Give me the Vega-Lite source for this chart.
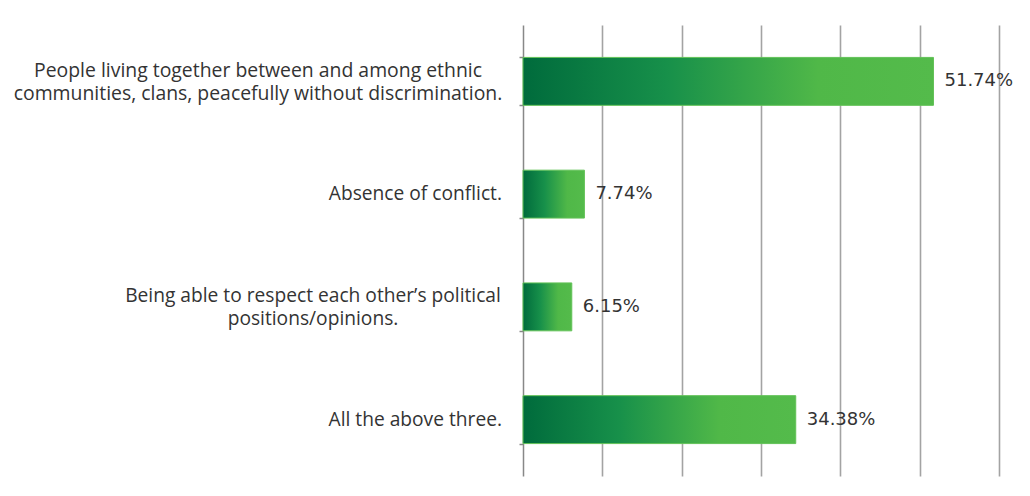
{
  "$schema": "https://vega.github.io/schema/vega-lite/v6.json",
  "width": 476,
  "height": 451,
  "autosize": {"type": "none"},
  "padding": {"left": 523, "top": 25, "right": 31, "bottom": 20},
  "background": "white",
  "config": {"view": {"stroke": null}},
  "data": {
    "values": [
      {"cat": "People living together between and among ethnic|communities, clans, peacefully without discrimination.", "pct": 0.5174},
      {"cat": "Absence of conflict.", "pct": 0.0774},
      {"cat": "Being able to respect each other’s political|positions/opinions.", "pct": 0.0615},
      {"cat": "All the above three.", "pct": 0.3438}
    ]
  },
  "encoding": {
    "y": {
      "field": "cat",
      "type": "nominal",
      "sort": null,
      "scale": {"paddingInner": 0.575, "paddingOuter": 0.2875},
      "axis": {
        "title": null,
        "tickBand": "extent",
        "ticks": true,
        "tickSize": 4,
        "tickColor": "#888888",
        "tickWidth": 1.5,
        "domain": true,
        "domainColor": "#888888",
        "domainWidth": 1.5,
        "grid": false,
        "labels": false
      }
    },
    "x": {
      "field": "pct",
      "type": "quantitative",
      "scale": {"domain": [0, 0.6], "nice": false},
      "axis": {
        "title": null,
        "labels": false,
        "ticks": false,
        "domain": false,
        "grid": true,
        "values": [0.1, 0.2, 0.3, 0.4, 0.5, 0.6],
        "gridColor": "#a3a3a3",
        "gridWidth": 1.6
      }
    }
  },
  "layer": [
    {
      "mark": {
        "type": "bar",
        "stroke": "#62c257",
        "strokeWidth": 1,
        "color": {
          "gradient": "linear",
          "x1": 0, "x2": 1, "y1": 0, "y2": 0,
          "stops": [
            {"offset": 0, "color": "#006B3C"},
            {"offset": 0.35, "color": "#17904A"},
            {"offset": 0.72, "color": "#50B848"},
            {"offset": 1, "color": "#54BB4B"}
          ]
        }
      }
    },
    {
      "mark": {
        "type": "text",
        "align": "left",
        "baseline": "middle",
        "dx": 11,
        "font": "DejaVu Sans",
        "fontSize": 18,
        "color": "#333333"
      },
      "encoding": {
        "text": {"field": "pct", "type": "quantitative", "format": ".2%"}
      }
    },
    {
      "transform": [{"filter": "indexof(datum.cat, 'People') == 0"}],
      "mark": {
        "type": "text",
        "align": "center",
        "baseline": "middle",
        "lineBreak": "|",
        "lineHeight": 23,
        "dx": -265,
        "dy": -10.5,
        "font": "Open Sans",
        "fontSize": 19.4,
        "color": "#333333"
      },
      "encoding": {
        "x": {"datum": 0},
        "text": {"field": "cat"}
      }
    },
    {
      "transform": [{"filter": "indexof(datum.cat, 'Being') == 0"}],
      "mark": {
        "type": "text",
        "align": "center",
        "baseline": "middle",
        "lineBreak": "|",
        "lineHeight": 23,
        "dx": -210,
        "dy": -10.5,
        "font": "Open Sans",
        "fontSize": 19.2,
        "color": "#333333"
      },
      "encoding": {
        "x": {"datum": 0},
        "text": {"field": "cat"}
      }
    },
    {
      "transform": [{"filter": "indexof(datum.cat, '|') < 0"}],
      "mark": {
        "type": "text",
        "align": "right",
        "baseline": "middle",
        "dx": -21,
        "font": "Open Sans",
        "fontSize": 19.2,
        "color": "#333333"
      },
      "encoding": {
        "x": {"datum": 0},
        "text": {"field": "cat"}
      }
    }
  ]
}
